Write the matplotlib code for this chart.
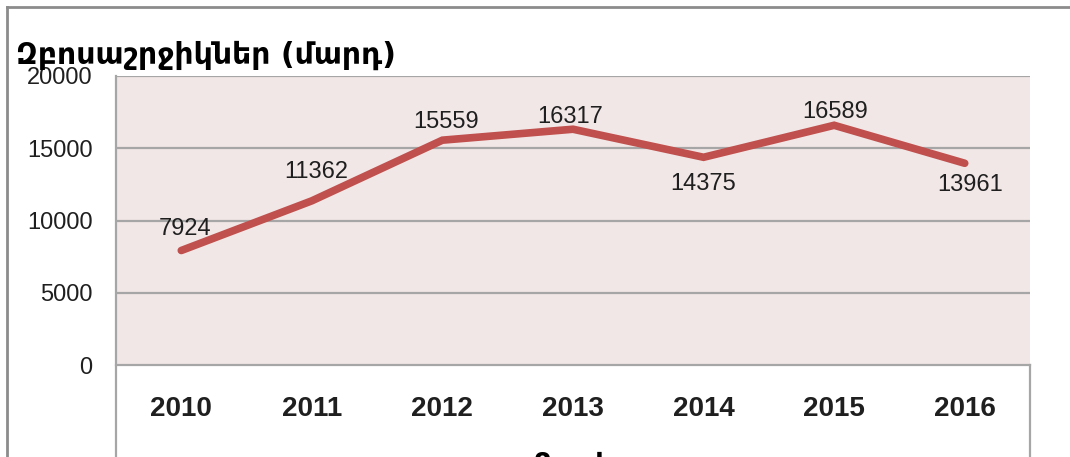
import matplotlib
matplotlib.use("Agg")
import matplotlib.pyplot as plt
from matplotlib.lines import Line2D

# data
years = ["2010", "2011", "2012", "2013", "2014", "2015", "2016"]
tourists = [7924, 11362, 15559, 16317, 14375, 16589, 13961]
y_ticks = [0, 5000, 10000, 15000, 20000]
title = "Զբոսաշրջիկներ (մարդ)"
x_title = "Տարի"

# label placement (pixels relative to each point), mimics Excel auto layout
label_offsets = [(4, 21), (4, 29), (4, 18), (-3, 12), (0, -27), (1, 13), (5, -22)]

W, H = 1070, 457
LINE_RED = "#C0504D"
PLOT_BG = "#F2E7E7"
GRID = "#A6A6A6"
BORDER = "#8C8C8C"
TXT = "#1F1F1F"
NUM_FONT = "Liberation Sans"

fig = plt.figure(figsize=(W / 100, H / 100), dpi=100)
fig.patch.set_facecolor("white")

# plot area in pixel coordinates of the reference
left, right, top, bottom = 116, 1030, 76, 365
ax = fig.add_axes([left / W, 1 - bottom / H, (right - left) / W, (bottom - top) / H])
ax.set_facecolor(PLOT_BG)

x = list(range(len(years)))
ax.plot(x, tourists, color=LINE_RED, lw=5.5, solid_capstyle="round",
        solid_joinstyle="miter", zorder=3)

for xi, v, (dx, dy) in zip(x, tourists, label_offsets):
    ax.annotate(str(v), (xi, v), xytext=(dx, dy), textcoords="offset pixels",
                ha="center", va="center", fontsize=17, family=NUM_FONT,
                color=TXT, zorder=4)

ax.set_xlim(-0.5, len(years) - 0.5)
ax.set_ylim(0, 20000)
ax.set_yticks(y_ticks)
ax.set_yticklabels([str(t) for t in y_ticks], fontsize=17, family=NUM_FONT, color=TXT)
ax.set_xticks(x)
ax.set_xticklabels(years, fontsize=20, family=NUM_FONT, fontweight="bold", color=TXT)
ax.tick_params(axis="y", length=0, pad=17)
ax.tick_params(axis="x", length=0, pad=22)

for yt in y_ticks[1:]:
    ax.axhline(yt, color=GRID, lw=1.6, zorder=1)

for s in ["top", "right", "left"]:
    ax.spines[s].set_visible(False)
ax.spines["bottom"].set_color(GRID)
ax.spines["bottom"].set_linewidth(1.6)

# vertical borders of the plot / category area
fig.add_artist(Line2D([left / W, left / W], [1 - top / H, 0], color=GRID, lw=1.6))
fig.add_artist(Line2D([right / W, right / W], [1 - bottom / H, 0], color=GRID, lw=1.6))

# outer chart border (cropped)
fig.add_artist(Line2D([7 / W, 7 / W], [0, 1 - 7 / H], color=BORDER, lw=2))
fig.add_artist(Line2D([7 / W, 1], [1 - 7 / H, 1 - 7 / H], color=BORDER, lw=2))

fig.text(16 / W, 1 - 64 / H, title, fontsize=21.5, fontweight="bold",
         family="DejaVu Sans", color="black", ha="left", va="baseline")

# axis title, mostly cut off by the crop
fig.text(573 / W, 1 - 473 / H, x_title, fontsize=20, fontweight="bold",
         family="DejaVu Sans", color="black", ha="center", va="baseline")

fig.savefig("out.png", dpi=100)
